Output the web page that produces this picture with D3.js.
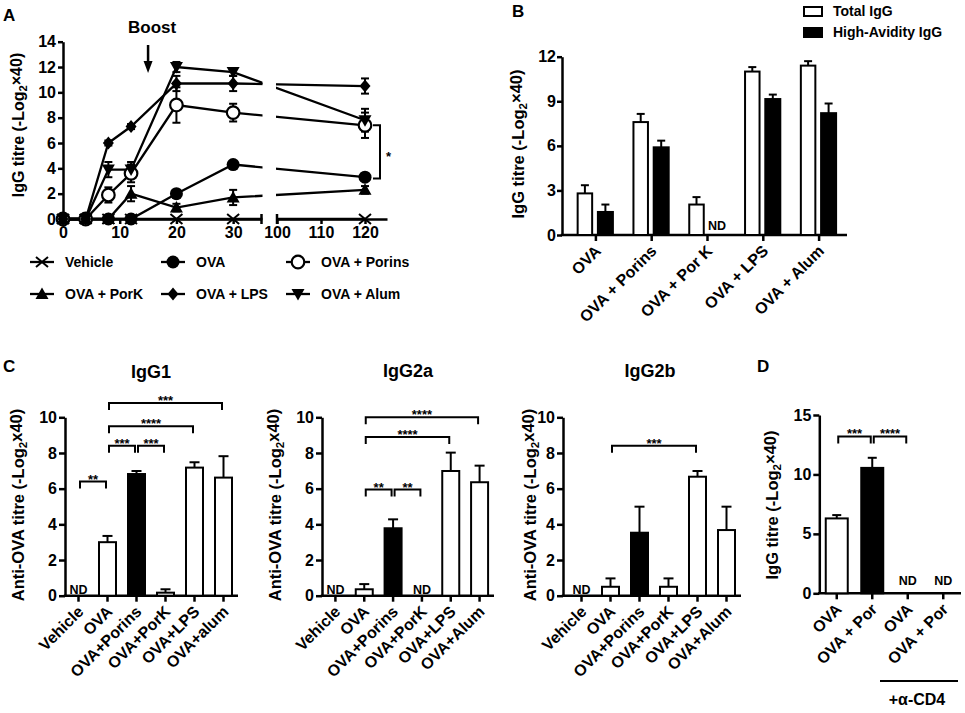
<!DOCTYPE html>
<html>
<head>
<meta charset="utf-8">
<title>IgG titres</title>
<script src="https://cdn.jsdelivr.net/npm/d3@7"></script>
<style>
	body { margin: 0; background: #fff; }
	svg { font-family: "Liberation Sans", Arial, sans-serif; font-weight: bold; }
	text { fill: #000; }
	.axis path, .axis line { stroke: #000; stroke-width: 2.5; }
	.axis text { font-family: "Liberation Sans", Arial, sans-serif; font-weight: bold; font-size: 16px; }
</style>
</head>
<body>
<script>

// ------------------------- data -------------------------
// A : time course
var daysA      = [0, 4, 8, 12, 20, 30, 120];
var seriesA    = ["Vehicle", "OVA", "OVA + Porins", "OVA + PorK", "OVA + LPS", "OVA + Alum"];
var vehicleA   = [0, 0, 0, 0, 0, 0, 0];
var ovaA       = [0, 0, 0, 0, 2.0, 4.3, 3.3];
var porinsA    = [0, 0, 1.9, 3.6, 9.0, 8.4, 7.4];
var porkA      = [0, 0, 0, 2.0, 0.9, 1.7, 2.3];
var lpsA       = [0, 0, 6.0, 7.3, 10.7, 10.7, 10.5];
var alumA      = [0, 0, 3.9, 3.9, 12.0, 11.6, 7.8];
var vehicleErrA = [0, 0, 0, 0, 0, 0, 0];
var ovaErrA    = [0, 0, 0, 0, 0.2, 0.2, 0.3];
var porinsErrA = [0, 0, 0.6, 0.7, 1.4, 0.7, 1.0];
var porkErrA   = [0, 0, 0, 0.6, 0.3, 0.6, 0.3];
var lpsErrA    = [0, 0, 0.2, 0.2, 0.6, 0.6, 0.6];
var alumErrA   = [0, 0, 0.6, 0.6, 0.4, 0.3, 0.9];
var xTicksLeftA  = [0, 10, 20, 30];
var xTicksRightA = [100, 110, 120];
var yTicksA      = [0, 2, 4, 6, 8, 10, 12, 14];

// B : total vs high-avidity IgG
var groupsB   = ["OVA", "OVA + Porins", "OVA + Por K", "OVA + LPS", "OVA + Alum"];
var totalB    = [2.8, 7.6, 2.05, 11.0, 11.4];
var totalErrB = [0.55, 0.55, 0.5, 0.3, 0.3];
var highB     = [1.55, 5.9, null, 9.15, 8.2];
var highErrB  = [0.5, 0.45, null, 0.3, 0.65];
var yTicksB   = [0, 3, 6, 9, 12];

// C : subclasses
var groupsIgG1 = ["Vehicle", "OVA", "OVA+Porins", "OVA+PorK", "OVA+LPS", "OVA+alum"];
var groupsIgG2 = ["Vehicle", "OVA", "OVA+Porins", "OVA+PorK", "OVA+LPS", "OVA+Alum"];
var igg1     = [null, 3.0, 6.82, 0.17, 7.18, 6.62];
var igg1Err  = [null, 0.35, 0.17, 0.19, 0.3, 1.2];
var igg2a    = [null, 0.36, 3.78, null, 6.99, 6.36];
var igg2aErr = [null, 0.29, 0.5, null, 1.03, 0.93];
var igg2b    = [null, 0.5, 3.53, 0.5, 6.67, 3.68];
var igg2bErr = [null, 0.47, 1.46, 0.47, 0.32, 1.31];
var yTicksC  = [0, 2, 4, 6, 8, 10];
// [from, to, level, label]
var sigIgG1  = [[0, 1, 6.4, "**"], [1, 2, 8.4, "***"], [2, 3, 8.4, "***"], [1, 4, 9.5, "****"], [1, 5, 10.8, "***"]];
var sigIgG2a = [[1, 5, 10.0, "****"], [1, 4, 8.9, "****"], [1, 2, 5.95, "**"], [2, 3, 5.95, "**"]];
var sigIgG2b = [[1, 4, 8.4, "***"]];

// D : anti-CD4
var groupsD = ["OVA", "OVA + Por", "OVA", "OVA + Por"];
var valuesD = [6.3, 10.55, null, null];
var errD    = [0.28, 0.85, null, null];
var yTicksD = [0, 5, 10, 15];
var sigD    = [[0, 1, 13.2, "***"], [1, 2, 13.2, "****"]];

// -----------------------------------------------------------------------------
var svg = d3.select("body").append("svg")
	.attr("width", 965)
	.attr("height", 713);
svg.append("rect").attr("width", 965).attr("height", 713).attr("fill", "#fff");

function label(x, y, txt, size, anchor) {
	return svg.append("text").text(txt)
		.attr("x", x).attr("y", y)
		.attr("text-anchor", anchor || "start")
		.style("font-size", size + "px");
}

// rotated y title with the subscript 2
function yTitle(cx, cy, pre, post, size) {
	var t = svg.append("text")
		.attr("transform", "translate(" + cx + "," + cy + ") rotate(-90)")
		.attr("text-anchor", "middle")
		.attr("dy", "0.35em")
		.style("font-size", size + "px");
	t.append("tspan").text(pre);
	t.append("tspan").text("2").attr("dy", "0.3em").style("font-size", (size * 0.7) + "px");
	t.append("tspan").text(post).attr("dy", "-0.3em");
}

// ------------------------------- panel A -------------------------------------
label(3, 21, "A", 17);

var xA = d3.scaleLinear().domain([0, 35, 100, 125]).range([63, 261.5, 277, 387]);
var yA = d3.scaleLinear().domain([0, 14]).range([219, 41.7]);

var gA = svg.append("g");

gA.append("g").attr("class", "axis").attr("transform", "translate(63,0)")
	.call(d3.axisLeft(yA).tickValues(yTicksA).tickSize(5).tickPadding(2).tickSizeOuter(0));

var xLeftA  = d3.scaleLinear().domain([0, 35]).range([63, 261.5]);
var xRightA = d3.scaleLinear().domain([100, 125]).range([277, 387]);
gA.append("g").attr("class", "axis").attr("transform", "translate(0,219)")
	.call(d3.axisBottom(xLeftA).tickValues(xTicksLeftA).tickSize(5).tickSizeOuter(0));
gA.append("g").attr("class", "axis").attr("transform", "translate(0,219)")
	.call(d3.axisBottom(xRightA).tickValues(xTicksRightA).tickSize(5).tickSizeOuter(0));
// break ends
[261.5, 277].forEach(function (bx) {
	gA.append("line").attr("x1", bx).attr("x2", bx).attr("y1", 214).attr("y2", 224)
		.attr("stroke", "#000").attr("stroke-width", 2.5);
});

yTitle(18, 125, "IgG titre (-Log", "\u00d740)", 16);

// clip away the broken part of the axis
var clip = svg.append("defs").append("clipPath").attr("id", "breakClip");
clip.append("rect").attr("x", 0).attr("y", 0).attr("width", 262.5).attr("height", 330);
clip.append("rect").attr("x", 276).attr("y", 0).attr("width", 200).attr("height", 330);

var valsA   = [vehicleA, ovaA, porinsA, porkA, lpsA, alumA];
var errsA   = [vehicleErrA, ovaErrA, porinsErrA, porkErrA, lpsErrA, alumErrA];
var shapesA = ["cross", "dot", "ring", "tri", "diamond", "tridown"];

var markerPaths = {
	cross: "M-6,-5L6,5M-6,5L6,-5",
	tri: "M0,-6.5L6.5,5L-6.5,5Z",
	tridown: "M0,6.5L6.5,-5L-6.5,-5Z",
	diamond: "M0,-6.5L5.5,0L0,6.5L-5.5,0Z"
};

function drawMarker(g, shape, x, y) {
	if (shape == "dot") {
		g.append("circle").attr("cx", x).attr("cy", y).attr("r", 6.5).attr("fill", "#000");
	} else if (shape == "ring") {
		g.append("circle").attr("cx", x).attr("cy", y).attr("r", 6.3)
			.attr("fill", "#fff").attr("stroke", "#000").attr("stroke-width", 2.2);
	} else if (shape == "cross") {
		g.append("path").attr("d", markerPaths.cross).attr("transform", "translate(" + x + "," + y + ")")
			.attr("fill", "none").attr("stroke", "#000").attr("stroke-width", 2);
	} else {
		g.append("path").attr("d", markerPaths[shape]).attr("transform", "translate(" + x + "," + y + ")")
			.attr("fill", "#000");
	}
}

var lineA = d3.line()
	.x(function (d) { return xA(d[0]); })
	.y(function (d) { return yA(d[1]); });

var linesA = gA.append("g").attr("clip-path", "url(#breakClip)");
valsA.forEach(function (vals) {
	linesA.append("path")
		.datum(daysA.map(function (d, i) { return [d, vals[i]]; }))
		.attr("d", lineA)
		.attr("fill", "none").attr("stroke", "#000").attr("stroke-width", 2.3);
});

var errG = gA.append("g").attr("stroke", "#000").attr("stroke-width", 2);
errsA.forEach(function (errs, s) {
	daysA.forEach(function (d, i) {
		if (!errs[i]) return;
		var x = xA(d), y1 = yA(valsA[s][i] - errs[i]), y2 = yA(valsA[s][i] + errs[i]);
		errG.append("line").attr("x1", x).attr("x2", x).attr("y1", y1).attr("y2", y2);
		errG.append("line").attr("x1", x - 4).attr("x2", x + 4).attr("y1", y1).attr("y2", y1);
		errG.append("line").attr("x1", x - 4).attr("x2", x + 4).attr("y1", y2).attr("y2", y2);
	});
});

var markG = gA.append("g");
valsA.forEach(function (vals, s) {
	daysA.forEach(function (d, i) {
		drawMarker(markG, shapesA[s], xA(d), yA(vals[i]));
	});
});

// significance between OVA + Porins and OVA at day 120
gA.append("path")
	.attr("d", "M373," + yA(7.4) + "H380V" + yA(3.2) + "H373")
	.attr("fill", "none").attr("stroke", "#000").attr("stroke-width", 2);
label(386, 161, "*", 13);

// boost arrow
var bx = xA(15);
label(bx + 4, 33, "Boost", 17, "middle");
gA.append("line").attr("x1", bx).attr("x2", bx).attr("y1", 45).attr("y2", 64)
	.attr("stroke", "#000").attr("stroke-width", 2.5);
gA.append("path").attr("d", "M" + (bx - 4.5) + ",61L" + (bx + 4.5) + ",61L" + bx + ",73Z").attr("fill", "#000");

// legend
var legPos = [[42, 262], [173, 262], [298, 262], [42, 294], [173, 294], [298, 294]];
seriesA.forEach(function (name, s) {
	var p = legPos[s];
	gA.append("line").attr("x1", p[0] - 12).attr("x2", p[0] + 12).attr("y1", p[1]).attr("y2", p[1])
		.attr("stroke", "#000").attr("stroke-width", 2.3);
	drawMarker(gA, shapesA[s], p[0], p[1]);
	label(p[0] + 23, p[1] + 5, name, 14);
});

// ---------------------------- bar chart helper -------------------------------
function barPanel(cfg) {
	var g = svg.append("g");
	var n = cfg.groups.length;
	var x = d3.scaleBand().domain(d3.range(n)).range(cfg.xRange);
	var y = d3.scaleLinear().domain(cfg.yDomain).range(cfg.yRange);
	var cx = function (i) { return x(i) + x.bandwidth() / 2; };
	var y0 = cfg.yRange[0];

	g.append("g").attr("class", "axis").attr("transform", "translate(" + cfg.axisX + ",0)")
		.call(d3.axisLeft(y).tickValues(cfg.yTicks).tickSize(cfg.tick || 6).tickPadding(cfg.pad || 2).tickSizeOuter(0));

	var xa = g.append("g").attr("class", "axis").attr("transform", "translate(0," + y0 + ")")
		.call(d3.axisBottom(x).tickSize(6).tickFormat(function (i) { return cfg.groups[i]; }));
	xa.select(".domain").remove();
	xa.selectAll("text")
		.attr("x", 0).attr("y", 0).attr("dy", "0.35em")
		.attr("transform", "translate(2,13) rotate(-45)")
		.style("text-anchor", "end");
	g.append("line").attr("x1", cfg.axisX - 1.2).attr("x2", cfg.xRange[1]).attr("y1", y0).attr("y2", y0)
		.attr("stroke", "#000").attr("stroke-width", 2.5);

	// bars
	cfg.series.forEach(function (ser) {
		var idx = d3.range(n).filter(function (i) { return ser.values[i] != null; });
		g.selectAll(null).data(idx).enter().append("line")
			.attr("x1", function (i) { return cx(i) + ser.offset; })
			.attr("x2", function (i) { return cx(i) + ser.offset; })
			.attr("y1", function (i) { return y(ser.values[i]); })
			.attr("y2", function (i) { return y(ser.values[i] + ser.errs[i]); })
			.attr("stroke", "#000").attr("stroke-width", 2);
		g.selectAll(null).data(idx).enter().append("line")
			.attr("x1", function (i) { return cx(i) + ser.offset - cfg.cap; })
			.attr("x2", function (i) { return cx(i) + ser.offset + cfg.cap; })
			.attr("y1", function (i) { return y(ser.values[i] + ser.errs[i]); })
			.attr("y2", function (i) { return y(ser.values[i] + ser.errs[i]); })
			.attr("stroke", "#000").attr("stroke-width", 2);
		g.selectAll(null).data(idx).enter().append("rect")
			.attr("x", function (i) { return cx(i) + ser.offset - ser.width / 2; })
			.attr("width", ser.width)
			.attr("y", function (i) { return y(ser.values[i]); })
			.attr("height", function (i) { return y0 - y(ser.values[i]); })
			.attr("fill", function (i) { return ser.fill(i); })
			.attr("stroke", "#000").attr("stroke-width", 2);
		// not detected
		idx = d3.range(n).filter(function (i) { return ser.values[i] == null; });
		g.selectAll(null).data(idx).enter().append("text")
			.text("ND")
			.attr("x", function (i) { return cx(i) + ser.offset; })
			.attr("y", y0 - cfg.ndGap)
			.attr("text-anchor", "middle")
			.style("font-size", "12.5px");
	});

	// brackets
	(cfg.sig || []).forEach(function (s) {
		var x1 = cx(s[0]) + 1.5, x2 = cx(s[1]) - 1.5, yt = y(s[2]);
		g.append("path")
			.attr("d", "M" + x1 + "," + (yt + 7) + "V" + yt + "H" + x2 + "V" + (yt + 7))
			.attr("fill", "none").attr("stroke", "#000").attr("stroke-width", 2);
		g.append("text").text(s[3])
			.attr("x", (x1 + x2) / 2).attr("y", yt + 2)
			.attr("text-anchor", "middle")
			.style("font-size", "13px");
	});
	return { x: x, y: y, cx: cx };
}

// ------------------------------- panel B -------------------------------------
label(512, 17, "B", 17);
barPanel({
	groups: groupsB, xRange: [568, 847], axisX: 562,
	yDomain: [0, 12], yRange: [235, 56.7], yTicks: yTicksB, tick: 5, pad: 1,
	cap: 4, ndGap: 5,
	series: [
		{ values: totalB, errs: totalErrB, offset: -11, width: 14.5, fill: function () { return "#fff"; } },
		{ values: highB, errs: highErrB, offset: 9.5, width: 15, fill: function () { return "#000"; } }
	]
});
yTitle(518, 144, "IgG titre (-Log", "\u00d740)", 16.5);
svg.append("rect").attr("x", 804).attr("y", 7).attr("width", 18).attr("height", 9)
	.attr("fill", "#fff").attr("stroke", "#000").attr("stroke-width", 2);
svg.append("rect").attr("x", 803).attr("y", 27).attr("width", 20).attr("height", 11).attr("fill", "#000");
label(833, 16, "Total IgG", 14);
label(833, 37, "High-Avidity IgG", 14);

// ------------------------------- panel C -------------------------------------
label(3, 372, "C", 17);
function porinsBlack(i) { return i == 2 ? "#000" : "#fff"; }

barPanel({
	groups: groupsIgG1, xRange: [64, 238], axisX: 65,
	yDomain: [0, 10], yRange: [595.7, 417.3], yTicks: yTicksC,
	cap: 5, ndGap: 2, sig: sigIgG1,
	series: [{ values: igg1, errs: igg1Err, offset: 0, width: 17, fill: porinsBlack }]
});
label(151, 378, "IgG1", 18, "middle");
yTitle(18, 505, "Anti-OVA titre (-Log", "x40)", 16.5);

barPanel({
	groups: groupsIgG2, xRange: [321, 494], axisX: 322,
	yDomain: [0, 10], yRange: [595.7, 417.3], yTicks: yTicksC,
	cap: 5, ndGap: 2, sig: sigIgG2a,
	series: [{ values: igg2a, errs: igg2aErr, offset: 0, width: 17, fill: porinsBlack }]
});
label(408, 377, "IgG2a", 18, "middle");
yTitle(275, 505, "Anti-OVA titre (-Log", "x40)", 16.5);

barPanel({
	groups: groupsIgG2, xRange: [567, 741], axisX: 563,
	yDomain: [0, 10], yRange: [595.7, 417.3], yTicks: yTicksC,
	cap: 5, ndGap: 2, sig: sigIgG2b,
	series: [{ values: igg2b, errs: igg2bErr, offset: 0, width: 17, fill: porinsBlack }]
});
label(650, 377, "IgG2b", 18, "middle");
yTitle(530, 505, "Anti-OVA titre (-Log", "x40)", 16.5);

// ------------------------------- panel D -------------------------------------
label(757, 372, "D", 17);
barPanel({
	groups: groupsD, xRange: [819, 961], axisX: 819.3,
	yDomain: [0, 15], yRange: [593.3, 415], yTicks: yTicksD,
	cap: 4.5, ndGap: 8, sig: sigD,
	series: [{ values: valuesD, errs: errD, offset: 0, width: 22, fill: function (i) { return i == 1 ? "#000" : "#fff"; } }]
});
yTitle(772, 505, "IgG titre (-Log", "\u00d740)", 16.5);
svg.append("line").attr("x1", 880).attr("x2", 958).attr("y1", 681).attr("y2", 681)
	.attr("stroke", "#000").attr("stroke-width", 2);
label(917, 705, "+\u03b1-CD4", 16, "middle");

</script>
</body>
</html>
